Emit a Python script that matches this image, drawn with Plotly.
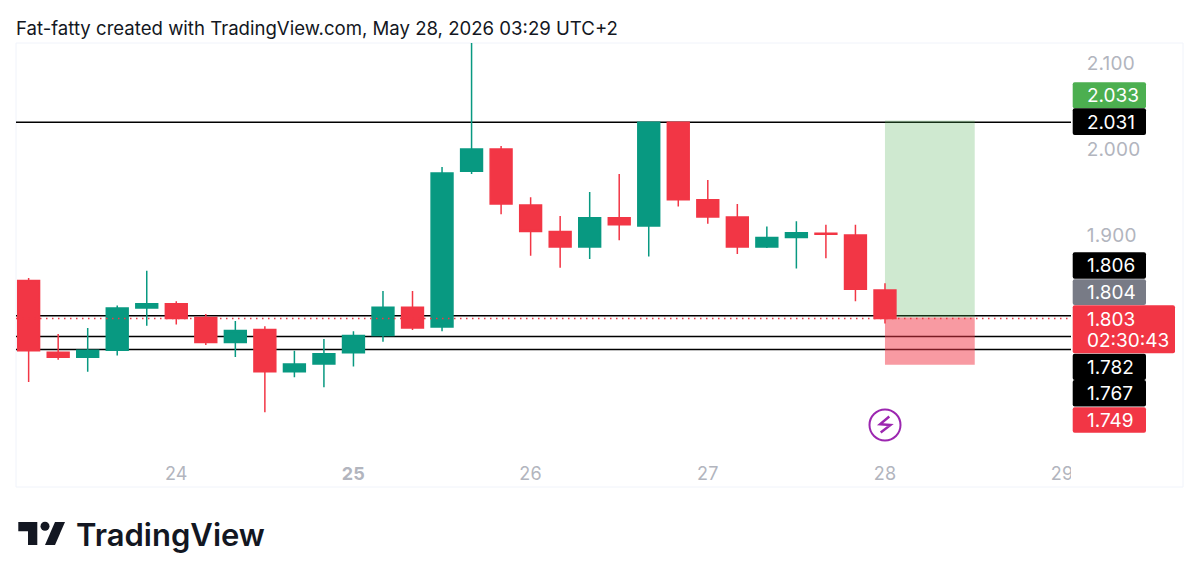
import plotly.graph_objects as go

# ---------- data ----------
bar_index = list(range(30))
opens = [1.847, 1.7636, 1.7578, 1.766, 1.815, 1.820, 1.804, 1.775, 1.790, 1.741,
         1.750, 1.763, 1.783, 1.816, 1.793, 1.974, 2.000, 1.935, 1.904, 1.886,
         1.920, 1.9105, 2.031, 1.941, 1.921, 1.886, 1.897, 1.902, 1.900, 1.836]
highs = [1.850, 1.785, 1.792, 1.818, 1.8585, 1.823, 1.808, 1.800, 1.794, 1.7655,
         1.779, 1.788, 1.835, 1.835, 1.979, 2.150, 2.0035, 1.944, 1.922, 1.950,
         1.971, 2.032, 2.0315, 1.964, 1.936, 1.910, 1.916, 1.912, 1.912, 1.844]
lows = [1.729, 1.755, 1.741, 1.760, 1.7945, 1.796, 1.772, 1.758, 1.694, 1.7345,
        1.723, 1.747, 1.776, 1.7895, 1.788, 1.971, 1.924, 1.876, 1.862, 1.872,
        1.894, 1.875, 1.933, 1.913, 1.878, 1.885, 1.861, 1.873, 1.823, 1.797]
closes = [1.7655, 1.7578, 1.766, 1.815, 1.820, 1.803, 1.775, 1.789, 1.741, 1.750,
          1.762, 1.783, 1.816, 1.792, 1.972, 2.000, 1.936, 1.904, 1.886, 1.920,
          1.912, 2.031, 1.941, 1.921, 1.886, 1.897, 1.9025, 1.901, 1.837, 1.803]

day_ticks = [5, 11, 17, 23, 29, 35]
day_labels = ["24", "<b>25</b>", "26", "27", "28", "29"]
price_ticks = [1.9, 2.0, 2.1]
level_lines = [2.031, 1.806, 1.782, 1.767]
last_price = 1.803
target_price = 2.033
entry_price = 1.804
stop_price = 1.749
position_start, position_end = 29, 32.04

# ---------- layout constants ----------
W, H = 1199, 581
L, R, T, B = 16, 1071, 43, 450
RED, GREEN, TEAL = "#F23645", "#4CAF50", "#089981"
FONT = "Inter"


def px(x):
    return (x - L) / (R - L)


def py(y):
    return (B - y) / (B - T)


def rpath(x0, y0, x1, y1, r=2):
    a, b, c, d = px(x0), py(y0), px(x1), py(y1)
    rx, ry = r / (R - L), r / (B - T)
    return (f"M{a + rx},{b} L{c - rx},{b} Q{c},{b} {c},{b - ry} L{c},{d + ry} Q{c},{d} {c - rx},{d} "
            f"L{a + rx},{d} Q{a},{d} {a},{d + ry} L{a},{b - ry} Q{a},{b} {a + rx},{b} Z")


def poly(points):
    return "M" + " L".join(f"{px(x)},{py(y)}" for x, y in points) + " Z"


fig = go.Figure(go.Candlestick(
    x=bar_index, open=opens, high=highs, low=lows, close=closes,
    increasing=dict(line=dict(color=TEAL, width=1.5), fillcolor=TEAL),
    decreasing=dict(line=dict(color=RED, width=1.5), fillcolor=RED),
    whiskerwidth=0, hoverinfo="skip",
))

shapes = [
    dict(type="rect", xref="paper", yref="paper", x0=px(16), x1=px(1183), y0=py(43), y1=py(487),
         line=dict(color="#F0F3FA", width=1), layer="below"),
    dict(type="rect", xref="x", yref="y", x0=position_start, x1=position_end, y0=entry_price, y1=target_price,
         fillcolor="rgba(76,175,80,0.27)", line=dict(width=0), layer="below"),
    dict(type="rect", xref="x", yref="y", x0=position_start, x1=position_end, y0=stop_price, y1=entry_price,
         fillcolor="rgba(242,54,69,0.5)", line=dict(width=0), layer="below"),
]
for lv in level_lines:
    shapes.append(dict(type="line", xref="paper", yref="y", x0=0, x1=1, y0=lv, y1=lv,
                       line=dict(color="#000000", width=1.5), layer="below"))
shapes.append(dict(type="line", xref="paper", yref="y", x0=0, x1=1, y0=last_price, y1=last_price,
                   line=dict(color=RED, width=1.5, dash="1.5px,4.5px"), layer="above"))
# clip the last day label at the edge of the pane
shapes.append(dict(type="rect", xref="paper", yref="paper", x0=px(1071), x1=px(1085), y0=py(455), y1=py(480),
                   fillcolor="#FFFFFF", line=dict(width=0), layer="above"))

# price tags on the scale: (top, bottom, right, colour)
tags = [
    (82.3, 108.3, 1146, GREEN), (108.3, 135, 1146, "#000000"),
    (252.3, 278.7, 1146, "#000000"), (279.3, 305, 1146, "#787B86"),
    (353.7, 380, 1146, "#000000"), (380, 406.5, 1146, "#000000"),
    (407.3, 432.7, 1146, RED), (305.3, 353.3, 1175, RED),
]
for top, bot, right, col in tags:
    shapes.append(dict(type="path", xref="paper", yref="paper", path=rpath(1072.7, top, right, bot),
                       fillcolor=col, line=dict(width=0), layer="above"))

# lightning badge
cx, cy, rr = 885, 425, 15.5
shapes.append(dict(type="circle", xref="paper", yref="paper", x0=px(cx - rr), x1=px(cx + rr),
                   y0=py(cy + rr), y1=py(cy - rr), line=dict(color="#9C27B0", width=2),
                   fillcolor="#FFFFFF", layer="above"))
bolt = [(889.3, 416.5), (880, 424.3), (890.5, 425), (880.7, 432.5)]
shapes.append(dict(type="path", xref="paper", yref="paper",
                   path="M" + " L".join(f"{px(x)},{py(y)}" for x, y in bolt),
                   line=dict(color="#9C27B0", width=2.4), layer="above"))

# TradingView logo mark
logo = "#131722"
shapes += [
    dict(type="path", xref="paper", yref="paper", fillcolor=logo, line=dict(width=0),
         path=poly([(18.3, 522), (37.3, 522), (37.3, 545), (28, 545), (28, 531.3), (18.3, 531.3)])),
    dict(type="path", xref="paper", yref="paper", fillcolor=logo, line=dict(width=0),
         path=poly([(55, 522), (65, 522), (55, 545), (45, 545)])),
    dict(type="circle", xref="paper", yref="paper", fillcolor=logo, line=dict(width=0),
         x0=px(40.5), x1=px(49.5), y0=py(530.8), y1=py(521.8)),
]


def label(x, y, text, color="#FFFFFF", size=19, anchor="left", weight=None):
    f = dict(family=FONT, size=size, color=color)
    if weight:
        f["weight"] = weight
    return dict(xref="paper", yref="paper", x=px(x), y=py(y), text=text, showarrow=False,
                xanchor=anchor, yanchor="middle", font=f, borderpad=0)


annotations = [
    label(15, 28, "Fat-fatty created with TradingView.com, May 28, 2026 03:29 UTC+2", "#131722", 18.6),
    label(75, 534, "TradingView", logo, 31, weight=600),
    label(1086, 95.7, f"{target_price:.3f}"),
    label(1086, 122.3, f"{level_lines[0]:.3f}"),
    label(1086, 265.7, f"{level_lines[1]:.3f}"),
    label(1086, 292.7, f"{entry_price:.3f}"),
    label(1086, 319.3, f"{last_price:.3f}"),
    label(1086, 340.7, "02:30:43"),
    label(1086, 367, f"{level_lines[2]:.3f}"),
    label(1086, 393.7, f"{level_lines[3]:.3f}"),
    label(1086, 420.3, f"{stop_price:.3f}"),
]

fig.update_layout(
    width=W, height=H, margin=dict(l=L, r=W - R, t=T, b=H - B, pad=0),
    paper_bgcolor="#FFFFFF", plot_bgcolor="#FFFFFF", showlegend=False,
    boxgap=0.26, boxgroupgap=0, shapes=shapes, annotations=annotations, hovermode=False,
    font=dict(family=FONT, color="#B2B5BE", size=18),
    xaxis=dict(range=[-0.428, 35.30], rangeslider=dict(visible=False), showgrid=False, zeroline=False,
               showline=False, tickvals=day_ticks, ticktext=day_labels, ticks="outside", ticklen=7,
               tickcolor="rgba(0,0,0,0)", tickfont=dict(family=FONT, size=18, color="#B2B5BE")),
    yaxis=dict(range=[1.65, 2.12326], side="right", showgrid=False, zeroline=False, showline=False,
               tickvals=price_ticks, tickformat=".3f", ticks="outside", ticklen=11,
               tickcolor="rgba(0,0,0,0)", tickfont=dict(family=FONT, size=19, color="#B2B5BE")),
)

css = ("document.body.style.margin='0';document.body.style.overflow='hidden';"
       "var s=document.createElement('style');"
       "s.textContent='.ytick text,.xtick text{font-variant-numeric:tabular-nums;letter-spacing:.2px}"
       ".annotation-text{font-variant-numeric:tabular-nums}';"
       "document.head.appendChild(s);")
fig.write_html("out.html", config=dict(displayModeBar=False), post_script=css)
